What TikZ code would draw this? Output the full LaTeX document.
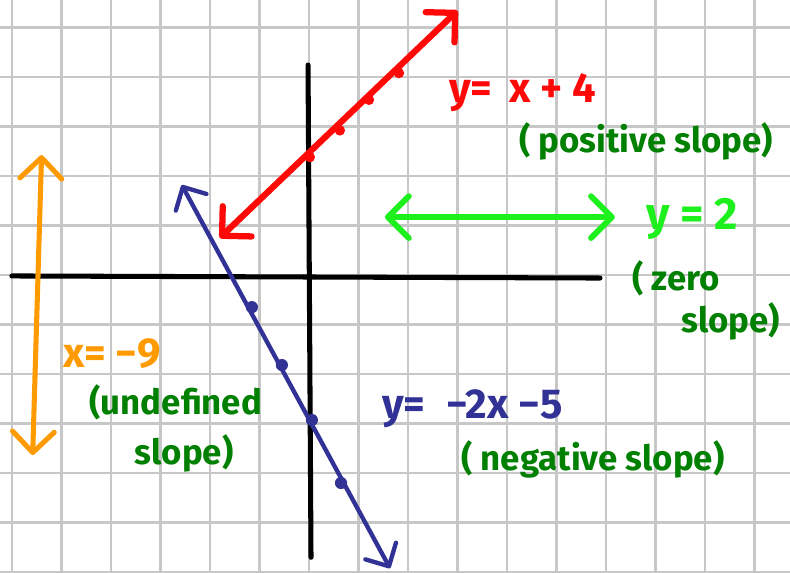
\documentclass[tikz,border=0pt]{standalone}
\usepackage{fontspec}
\setmainfont{Fira Sans}
\usepackage{xcolor}
\usepackage{tikz}
\usetikzlibrary{arrows.meta}

\definecolor{penred}{RGB}{255,8,8}
\definecolor{pengreen}{RGB}{0,128,0}
\definecolor{penlime}{RGB}{30,240,30}
\definecolor{penorange}{RGB}{255,155,0}
\definecolor{penblue}{RGB}{50,50,150}

\begin{document}
\begin{tikzpicture}[x=0.6cm, y=0.6cm,
    ln/.style={line cap=round, line join=round},
    arr/.style={ln, {Straight Barb[round, length=12pt, width=24pt]}-{Straight Barb[round, length=12pt, width=24pt]}},
    nd/.style={circle, fill=#1, minimum size=6pt, inner sep=0pt},
    lbl/.style={font=\fontsize{20}{24}\selectfont\bfseries, inner sep=0pt},
    eq/.style={font=\fontsize{24}{28}\selectfont\bfseries, inner sep=0pt}]
    \useasboundingbox (-10.4,-10) rectangle (16.195,9.26);
    \fill[white] (-10.4,-10) rectangle (16.195,9.26);
    \draw[black!22, line width=1.3pt] (-10.4,-10) grid (16.195,9.26);
    % axes
    \coordinate (XL) at (-10,-0.03);
    \coordinate (XR) at (9.8,-0.1);
    \coordinate (YT) at (-0.03,7.07);
    \coordinate (YB) at (0.07,-9.5);
    \draw[ln, black, line width=2.9pt] (XL) -- (XR);
    \draw[ln, black, line width=2.9pt] (YT) -- (YB);
    % y = x + 4
    \coordinate (R1) at (-3,1.25);
    \coordinate (R2) at (5,8.9);
    \draw[arr, penred, line width=3.6pt] (R1) -- (R2);
    \foreach \n/\p in {Ra/{(0.03,3.97)}, Rb/{(1.04,4.87)}, Rc/{(2.02,5.9)}, Rd/{(3.03,6.8)}} {
        \node[nd=penred] (\n) at \p {};
    }
    % y = -2x - 5
    \coordinate (B1) at (-4.28,3.03);
    \coordinate (B2) at (2.73,-9.87);
    \draw[ln, penblue, line width=2.5pt,
        {Straight Barb[round, length=10pt, width=20pt]}-{Straight Barb[round, length=10pt, width=20pt]}] (B1) -- (B2);
    \foreach \n/\p in {Ba/{(-1.92,-1.08)}, Bb/{(-0.91,-3.03)}, Bc/{(0.1,-4.88)}, Bd/{(1.08,-7.0)}} {
        \node[nd=penblue, minimum size=7pt] (\n) at \p {};
    }
    % y = 2
    \coordinate (G1) at (2.56,1.95);
    \coordinate (G2) at (10.3,1.95);
    \draw[arr, penlime, line width=3.4pt] (G1) -- (G2);
    % x = -9
    \coordinate (O1) at (-9,4.04);
    \coordinate (O2) at (-9.3,-6.06);
    \draw[arr, penorange, line width=2.9pt] (O1) -- (O2);
    % labels
    \node[eq, text=penred] (tR) at (7.2,6.15) {y=\, x + 4};
    \node[lbl, text=pengreen] (tRs) at (11.35,4.5) {( positive slope)};
    \node[eq, text=penlime, font=\fontsize{26}{30}\selectfont\bfseries] (tG) at (12.9,1.9) {y = 2};
    \node[lbl, text=pengreen] (tGs) at (12.36,-0.1) {( zero};
    \node[lbl, text=pengreen] (tGs2) at (14.2,-1.55) {slope)};
    \node[eq, text=penorange] (tO) at (-6.63,-2.66) {x= −9};
    \node[lbl, text=pengreen] (tOs) at (-4.48,-4.3) {(undefined};
    \node[lbl, text=pengreen] (tOs2) at (-4.2,-6.0) {slope)};
    \node[eq, text=penblue] (tB) at (5.5,-4.5) {y=\enspace −2x −5};
    \node[lbl, text=pengreen] (tBs) at (9.56,-6.2) {( negative slope)};
\end{tikzpicture}
\end{document}
